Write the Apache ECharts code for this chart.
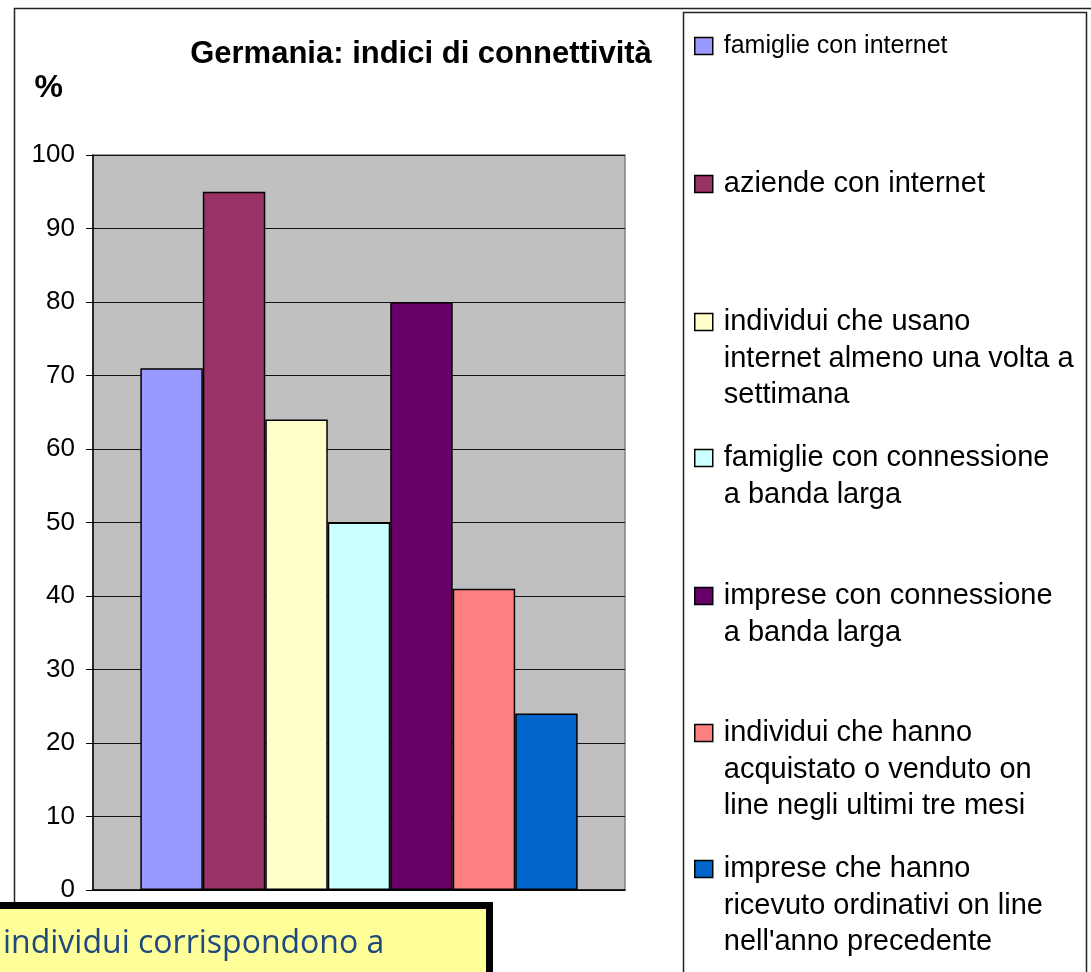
<!DOCTYPE html>
<html>
<head>
<meta charset="utf-8">
<script src="https://cdn.jsdelivr.net/npm/echarts@6/dist/echarts.min.js"></script>
<style>
html,body{margin:0;padding:0;background:#fff;}
#chart{width:1091px;height:972px;}
</style>
</head>
<body>
<div id="chart"></div>
<script>
// ---- data ----
const chartTitle = 'Germania: indici di connettività';
const yAxisName = '%';
const categories = [''];
const seriesNames = [
  'famiglie con internet',
  'aziende con internet',
  'individui che usano internet almeno una volta a settimana',
  'famiglie con connessione a banda larga',
  'imprese con connessione a banda larga',
  'individui che hanno acquistato o venduto on line negli ultimi tre mesi',
  'imprese che hanno ricevuto ordinativi on line nell\'anno precedente'
];
const legendLabels = [
  'famiglie con internet',
  'aziende con internet',
  'individui che usano\ninternet almeno una volta a\nsettimana',
  'famiglie con connessione\na banda larga',
  'imprese con connessione\na banda larga',
  'individui che hanno\nacquistato o venduto on\nline negli ultimi tre mesi',
  'imprese che hanno\nricevuto ordinativi on line\nnell\'anno precedente'
];
const seriesValues = [71, 95, 64, 50, 80, 41, 24];
const seriesColors = ['#9999FF', '#993366', '#FFFFCC', '#CCFFFF', '#660066', '#FF8080', '#0066CC'];
const noteText = 'individui corrispondono a';

// ---- layout ----
const chart = echarts.init(document.getElementById('chart'), null, {renderer: 'canvas'});
const LH = 36.5;
const legendSymY = [46, 184, 322, 458, 596, 733, 869];
const legendFont = [25, 29, 29, 29, 29, 29, 29];

// leading blank lines so that the symbol lines up with the first text line
function legendText(i) {
  const lines = legendLabels[i].split('\n');
  const pad = new Array(lines.length - 1).fill(' ');
  return pad.concat(lines).join('\n');
}

const legends = seriesNames.map((name, i) => {
  const n = legendLabels[i].split('\n').length;
  const boxH = (2 * n - 1) * LH;
  return {
    orient: 'vertical',
    left: 694,
    top: legendSymY[i] - boxH / 2,
    padding: 0,
    icon: 'rect',
    itemWidth: 18,
    itemHeight: 17,
    selectedMode: false,
    itemStyle: {borderColor: '#000', borderWidth: 1.5},
    formatter: nm => legendText(seriesNames.indexOf(nm)),
    data: [{
      name: name,
      textStyle: {
        fontFamily: 'Liberation Sans',
        fontSize: legendFont[i],
        color: '#000',
        lineHeight: LH,
        padding: [0, 0, 0, 6]
      }
    }]
  };
});

const option = {
  backgroundColor: '#fff',
  animation: false,
  title: {
    text: chartTitle,
    left: 421,
    top: 39,
    textAlign: 'center',
    padding: 0,
    textStyle: {fontFamily: 'Liberation Sans', fontWeight: 'bold', fontSize: 31, color: '#000'}
  },
  legend: legends,
  grid: {
    left: 93, right: 466, top: 155, bottom: 82,
    show: true, backgroundColor: '#C0C0C0', borderColor: '#808080', borderWidth: 1.5
  },
  xAxis: {
    type: 'category',
    data: categories,
    axisLine: {lineStyle: {color: '#000', width: 1.5}},
    axisTick: {show: false},
    axisLabel: {show: false}
  },
  yAxis: {
    type: 'value',
    min: 0, max: 100, interval: 10,
    name: yAxisName,
    nameLocation: 'end',
    nameGap: 51,
    nameTextStyle: {fontFamily: 'Liberation Sans', fontWeight: 'bold', fontSize: 32, color: '#000', align: 'right', padding: [0, 30, 0, 0]},
    axisLine: {show: true, lineStyle: {color: '#000', width: 1.5}},
    axisTick: {show: true, length: 7, lineStyle: {color: '#000', width: 1}},
    axisLabel: {fontFamily: 'Liberation Sans', fontSize: 26, color: '#000', margin: 18},
    splitLine: {show: true, lineStyle: {color: '#111', width: 1}}
  },
  series: seriesNames.map((name, i) => ({
    name: name,
    type: 'bar',
    data: [seriesValues[i]],
    barGap: '0%',
    barCategoryGap: '17.8%',
    itemStyle: {color: seriesColors[i], borderColor: '#000', borderWidth: 1.5}
  })),
  graphic: [
    {type: 'rect', z: -1, silent: true,
     shape: {x: 14.5, y: 8.5, width: 1100, height: 1000},
     style: {fill: 'none', stroke: '#222', lineWidth: 1.5}},
    {type: 'rect', z: -1, silent: true,
     shape: {x: 683.5, y: 12.5, width: 403, height: 1000},
     style: {fill: 'none', stroke: '#222', lineWidth: 1.5}},
    {type: 'rect', z: 100, silent: true,
     shape: {x: -20, y: 905.5, width: 509.5, height: 100},
     style: {fill: '#FFFF99', stroke: '#000', lineWidth: 7}},
    {type: 'text', z: 101, silent: true, x: 3, y: 944,
     style: {text: noteText, fontFamily: 'Open Sans', fontSize: 32, fill: '#1F497D', verticalAlign: 'middle', align: 'left'}}
  ]
};
chart.setOption(option);
</script>
</body>
</html>
